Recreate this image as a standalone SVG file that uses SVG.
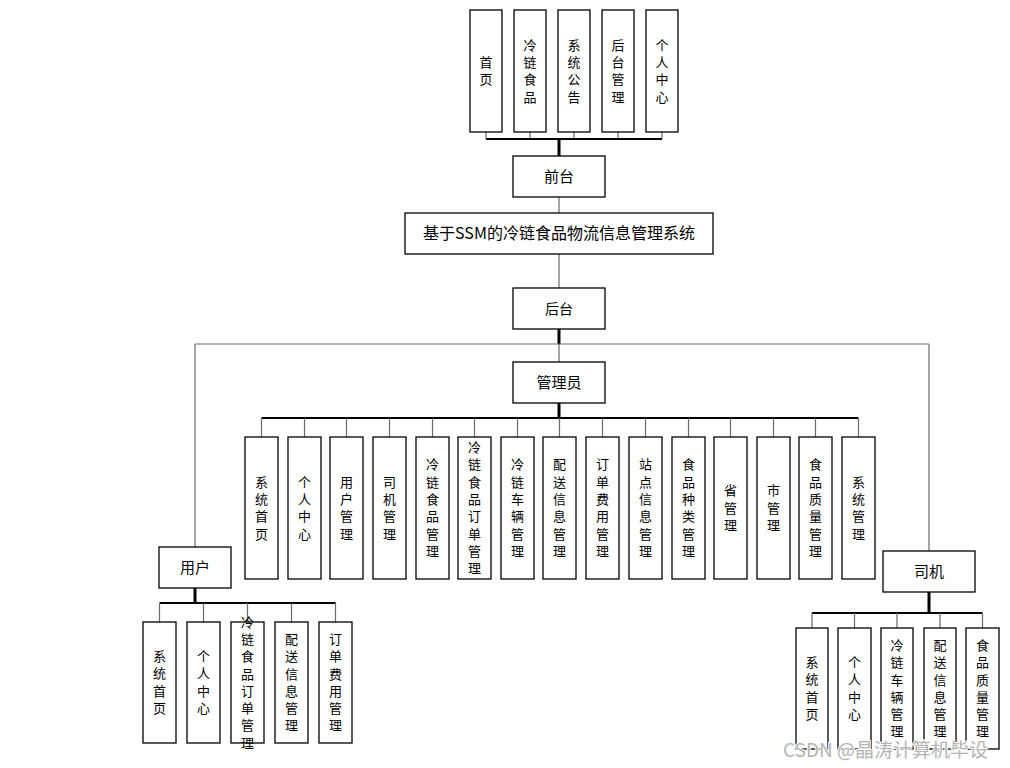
<svg xmlns="http://www.w3.org/2000/svg" width="1010" height="768" viewBox="0 0 1010 768">
<style>
.box{fill:#fff;stroke:#000;stroke-width:1.3}
.t{font-family:"Noto Sans CJK SC","Noto Sans",sans-serif;font-size:13px;fill:#000;text-anchor:middle}
.h{font-family:"Noto Sans CJK SC","Noto Sans",sans-serif;font-size:15px;fill:#000;text-anchor:middle}
.g{stroke:#6b6b6b;stroke-width:1.2;fill:none}
.b{stroke:#000;stroke-width:2;fill:none}
.k{stroke:#000;stroke-width:3;fill:none}
.wm{font-family:"Noto Sans CJK SC","Noto Sans",sans-serif;font-size:19px;fill:#b4b4b4;stroke:#fff;stroke-width:2;paint-order:stroke}
</style>
<rect width="1010" height="768" fill="#fff"/>
<g id="connectors">
<path class="g" d="M486 132V139M530 132V139M574 132V139M618 132V139M662 132V139"/>
<path class="b" d="M486 139H662"/>
<path class="k" d="M559 139V156"/>
<path class="g" d="M559 197V213M559 254V288M559 344V362"/>
<path class="k" d="M559 329V344"/>
<path class="g" d="M195 344H929M195 344V547M929 344V551"/>
<path class="k" d="M559 403V418"/>
<path class="b" d="M261.5 418H858.5"/>
<path class="g" d="M261.5 418V437M304.5 418V437M346.5 418V437M389.5 418V437M432.5 418V437M474.5 418V437M517.5 418V437M559.5 418V437M602.5 418V437M645.5 418V437M688.5 418V437M730.5 418V437M773.5 418V437M815.5 418V437M858.5 418V437"/>
<path class="k" d="M195 588V603"/>
<path class="b" d="M159.5 603H335.5"/>
<path class="g" d="M159.5 603V622M203.5 603V622M247.5 603V622M291.5 603V622M335.5 603V622"/>
<path class="k" d="M929 592V613"/>
<path class="b" d="M812 613H982.5"/>
<path class="g" d="M812 613V628M854.5 613V628M897 613V628M940 613V628M982.5 613V628"/>
</g>
<g id="front-home"><rect class="box" x="470" y="10" width="32" height="122"/><text class="t" x="486" y="67">首<tspan x="486" dy="17.3">页</tspan></text></g>
<g id="front-food"><rect class="box" x="514" y="10" width="32" height="122"/><text class="t" x="530" y="49.6">冷<tspan x="530" dy="17.3">链</tspan><tspan x="530" dy="17.3">食</tspan><tspan x="530" dy="17.3">品</tspan></text></g>
<g id="front-notice"><rect class="box" x="558" y="10" width="32" height="122"/><text class="t" x="574" y="49.6">系<tspan x="574" dy="17.3">统</tspan><tspan x="574" dy="17.3">公</tspan><tspan x="574" dy="17.3">告</tspan></text></g>
<g id="front-admin"><rect class="box" x="602" y="10" width="32" height="122"/><text class="t" x="618" y="49.6">后<tspan x="618" dy="17.3">台</tspan><tspan x="618" dy="17.3">管</tspan><tspan x="618" dy="17.3">理</tspan></text></g>
<g id="front-personal"><rect class="box" x="646" y="10" width="32" height="122"/><text class="t" x="662" y="49.6">个<tspan x="662" dy="17.3">人</tspan><tspan x="662" dy="17.3">中</tspan><tspan x="662" dy="17.3">心</tspan></text></g>
<g id="front"><rect class="box" x="513" y="156" width="92" height="41"/><text class="h" x="559" y="182">前台</text></g>
<g id="system"><rect class="box" x="405" y="213" width="308" height="41"/><text class="h" x="559" y="239" style="font-size:16px">基于SSM的冷链食品物流信息管理系统</text></g>
<g id="back"><rect class="box" x="513" y="288" width="92" height="41"/><text class="h" x="559" y="314" style="font-size:14px">后台</text></g>
<g id="admin"><rect class="box" x="513" y="362" width="92" height="41"/><text class="h" x="559" y="388">管理员</text></g>
<g id="a1"><rect class="box" x="245" y="437" width="33" height="142"/><text class="t" x="261.5" y="486.6">系<tspan x="261.5" dy="17.3">统</tspan><tspan x="261.5" dy="17.3">首</tspan><tspan x="261.5" dy="17.3">页</tspan></text></g>
<g id="a2"><rect class="box" x="288" y="437" width="33" height="142"/><text class="t" x="304.5" y="486.6">个<tspan x="304.5" dy="17.3">人</tspan><tspan x="304.5" dy="17.3">中</tspan><tspan x="304.5" dy="17.3">心</tspan></text></g>
<g id="a3"><rect class="box" x="330" y="437" width="33" height="142"/><text class="t" x="346.5" y="486.6">用<tspan x="346.5" dy="17.3">户</tspan><tspan x="346.5" dy="17.3">管</tspan><tspan x="346.5" dy="17.3">理</tspan></text></g>
<g id="a4"><rect class="box" x="373" y="437" width="33" height="142"/><text class="t" x="389.5" y="486.6">司<tspan x="389.5" dy="17.3">机</tspan><tspan x="389.5" dy="17.3">管</tspan><tspan x="389.5" dy="17.3">理</tspan></text></g>
<g id="a5"><rect class="box" x="416" y="437" width="33" height="142"/><text class="t" x="432.5" y="469.4">冷<tspan x="432.5" dy="17.3">链</tspan><tspan x="432.5" dy="17.3">食</tspan><tspan x="432.5" dy="17.3">品</tspan><tspan x="432.5" dy="17.3">管</tspan><tspan x="432.5" dy="17.3">理</tspan></text></g>
<g id="a6"><rect class="box" x="458" y="437" width="33" height="142"/><text class="t" x="474.5" y="452">冷<tspan x="474.5" dy="17.3">链</tspan><tspan x="474.5" dy="17.3">食</tspan><tspan x="474.5" dy="17.3">品</tspan><tspan x="474.5" dy="17.3">订</tspan><tspan x="474.5" dy="17.3">单</tspan><tspan x="474.5" dy="17.3">管</tspan><tspan x="474.5" dy="17.3">理</tspan></text></g>
<g id="a7"><rect class="box" x="501" y="437" width="33" height="142"/><text class="t" x="517.5" y="469.4">冷<tspan x="517.5" dy="17.3">链</tspan><tspan x="517.5" dy="17.3">车</tspan><tspan x="517.5" dy="17.3">辆</tspan><tspan x="517.5" dy="17.3">管</tspan><tspan x="517.5" dy="17.3">理</tspan></text></g>
<g id="a8"><rect class="box" x="543" y="437" width="33" height="142"/><text class="t" x="559.5" y="469.4">配<tspan x="559.5" dy="17.3">送</tspan><tspan x="559.5" dy="17.3">信</tspan><tspan x="559.5" dy="17.3">息</tspan><tspan x="559.5" dy="17.3">管</tspan><tspan x="559.5" dy="17.3">理</tspan></text></g>
<g id="a9"><rect class="box" x="586" y="437" width="33" height="142"/><text class="t" x="602.5" y="469.4">订<tspan x="602.5" dy="17.3">单</tspan><tspan x="602.5" dy="17.3">费</tspan><tspan x="602.5" dy="17.3">用</tspan><tspan x="602.5" dy="17.3">管</tspan><tspan x="602.5" dy="17.3">理</tspan></text></g>
<g id="a10"><rect class="box" x="629" y="437" width="33" height="142"/><text class="t" x="645.5" y="469.4">站<tspan x="645.5" dy="17.3">点</tspan><tspan x="645.5" dy="17.3">信</tspan><tspan x="645.5" dy="17.3">息</tspan><tspan x="645.5" dy="17.3">管</tspan><tspan x="645.5" dy="17.3">理</tspan></text></g>
<g id="a11"><rect class="box" x="672" y="437" width="33" height="142"/><text class="t" x="688.5" y="469.4">食<tspan x="688.5" dy="17.3">品</tspan><tspan x="688.5" dy="17.3">种</tspan><tspan x="688.5" dy="17.3">类</tspan><tspan x="688.5" dy="17.3">管</tspan><tspan x="688.5" dy="17.3">理</tspan></text></g>
<g id="a12"><rect class="box" x="714" y="437" width="33" height="142"/><text class="t" x="730.5" y="495.3">省<tspan x="730.5" dy="17.3">管</tspan><tspan x="730.5" dy="17.3">理</tspan></text></g>
<g id="a13"><rect class="box" x="757" y="437" width="33" height="142"/><text class="t" x="773.5" y="495.3">市<tspan x="773.5" dy="17.3">管</tspan><tspan x="773.5" dy="17.3">理</tspan></text></g>
<g id="a14"><rect class="box" x="799" y="437" width="33" height="142"/><text class="t" x="815.5" y="469.4">食<tspan x="815.5" dy="17.3">品</tspan><tspan x="815.5" dy="17.3">质</tspan><tspan x="815.5" dy="17.3">量</tspan><tspan x="815.5" dy="17.3">管</tspan><tspan x="815.5" dy="17.3">理</tspan></text></g>
<g id="a15"><rect class="box" x="842" y="437" width="33" height="142"/><text class="t" x="858.5" y="486.6">系<tspan x="858.5" dy="17.3">统</tspan><tspan x="858.5" dy="17.3">管</tspan><tspan x="858.5" dy="17.3">理</tspan></text></g>
<g id="user"><rect class="box" x="159" y="547" width="72" height="41"/><text class="h" x="195" y="573">用户</text></g>
<g id="u1"><rect class="box" x="143" y="622" width="33" height="121"/><text class="t" x="159.5" y="661.1">系<tspan x="159.5" dy="17.3">统</tspan><tspan x="159.5" dy="17.3">首</tspan><tspan x="159.5" dy="17.3">页</tspan></text></g>
<g id="u2"><rect class="box" x="187" y="622" width="33" height="121"/><text class="t" x="203.5" y="661.1">个<tspan x="203.5" dy="17.3">人</tspan><tspan x="203.5" dy="17.3">中</tspan><tspan x="203.5" dy="17.3">心</tspan></text></g>
<g id="u3"><rect class="box" x="231" y="622" width="33" height="121"/><text class="t" x="247.5" y="626.6">冷<tspan x="247.5" dy="17.3">链</tspan><tspan x="247.5" dy="17.3">食</tspan><tspan x="247.5" dy="17.3">品</tspan><tspan x="247.5" dy="17.3">订</tspan><tspan x="247.5" dy="17.3">单</tspan><tspan x="247.5" dy="17.3">管</tspan><tspan x="247.5" dy="17.3">理</tspan></text></g>
<g id="u4"><rect class="box" x="275" y="622" width="33" height="121"/><text class="t" x="291.5" y="643.9">配<tspan x="291.5" dy="17.3">送</tspan><tspan x="291.5" dy="17.3">信</tspan><tspan x="291.5" dy="17.3">息</tspan><tspan x="291.5" dy="17.3">管</tspan><tspan x="291.5" dy="17.3">理</tspan></text></g>
<g id="u5"><rect class="box" x="319" y="622" width="33" height="121"/><text class="t" x="335.5" y="643.9">订<tspan x="335.5" dy="17.3">单</tspan><tspan x="335.5" dy="17.3">费</tspan><tspan x="335.5" dy="17.3">用</tspan><tspan x="335.5" dy="17.3">管</tspan><tspan x="335.5" dy="17.3">理</tspan></text></g>
<g id="driver"><rect class="box" x="883" y="551" width="92" height="41"/><text class="h" x="929" y="577">司机</text></g>
<g id="d1"><rect class="box" x="796" y="628" width="32" height="121"/><text class="t" x="812" y="667.1">系<tspan x="812" dy="17.3">统</tspan><tspan x="812" dy="17.3">首</tspan><tspan x="812" dy="17.3">页</tspan></text></g>
<g id="d2"><rect class="box" x="838" y="628" width="33" height="121"/><text class="t" x="854.5" y="667.1">个<tspan x="854.5" dy="17.3">人</tspan><tspan x="854.5" dy="17.3">中</tspan><tspan x="854.5" dy="17.3">心</tspan></text></g>
<g id="d3"><rect class="box" x="881" y="628" width="32" height="121"/><text class="t" x="897" y="649.9">冷<tspan x="897" dy="17.3">链</tspan><tspan x="897" dy="17.3">车</tspan><tspan x="897" dy="17.3">辆</tspan><tspan x="897" dy="17.3">管</tspan><tspan x="897" dy="17.3">理</tspan></text></g>
<g id="d4"><rect class="box" x="924" y="628" width="32" height="121"/><text class="t" x="940" y="649.9">配<tspan x="940" dy="17.3">送</tspan><tspan x="940" dy="17.3">信</tspan><tspan x="940" dy="17.3">息</tspan><tspan x="940" dy="17.3">管</tspan><tspan x="940" dy="17.3">理</tspan></text></g>
<g id="d5"><rect class="box" x="966" y="628" width="33" height="121"/><text class="t" x="982.5" y="649.9">食<tspan x="982.5" dy="17.3">品</tspan><tspan x="982.5" dy="17.3">质</tspan><tspan x="982.5" dy="17.3">量</tspan><tspan x="982.5" dy="17.3">管</tspan><tspan x="982.5" dy="17.3">理</tspan></text></g>
<text class="wm" x="783" y="757">CSDN @晶涛计算机毕设</text>
</svg>
